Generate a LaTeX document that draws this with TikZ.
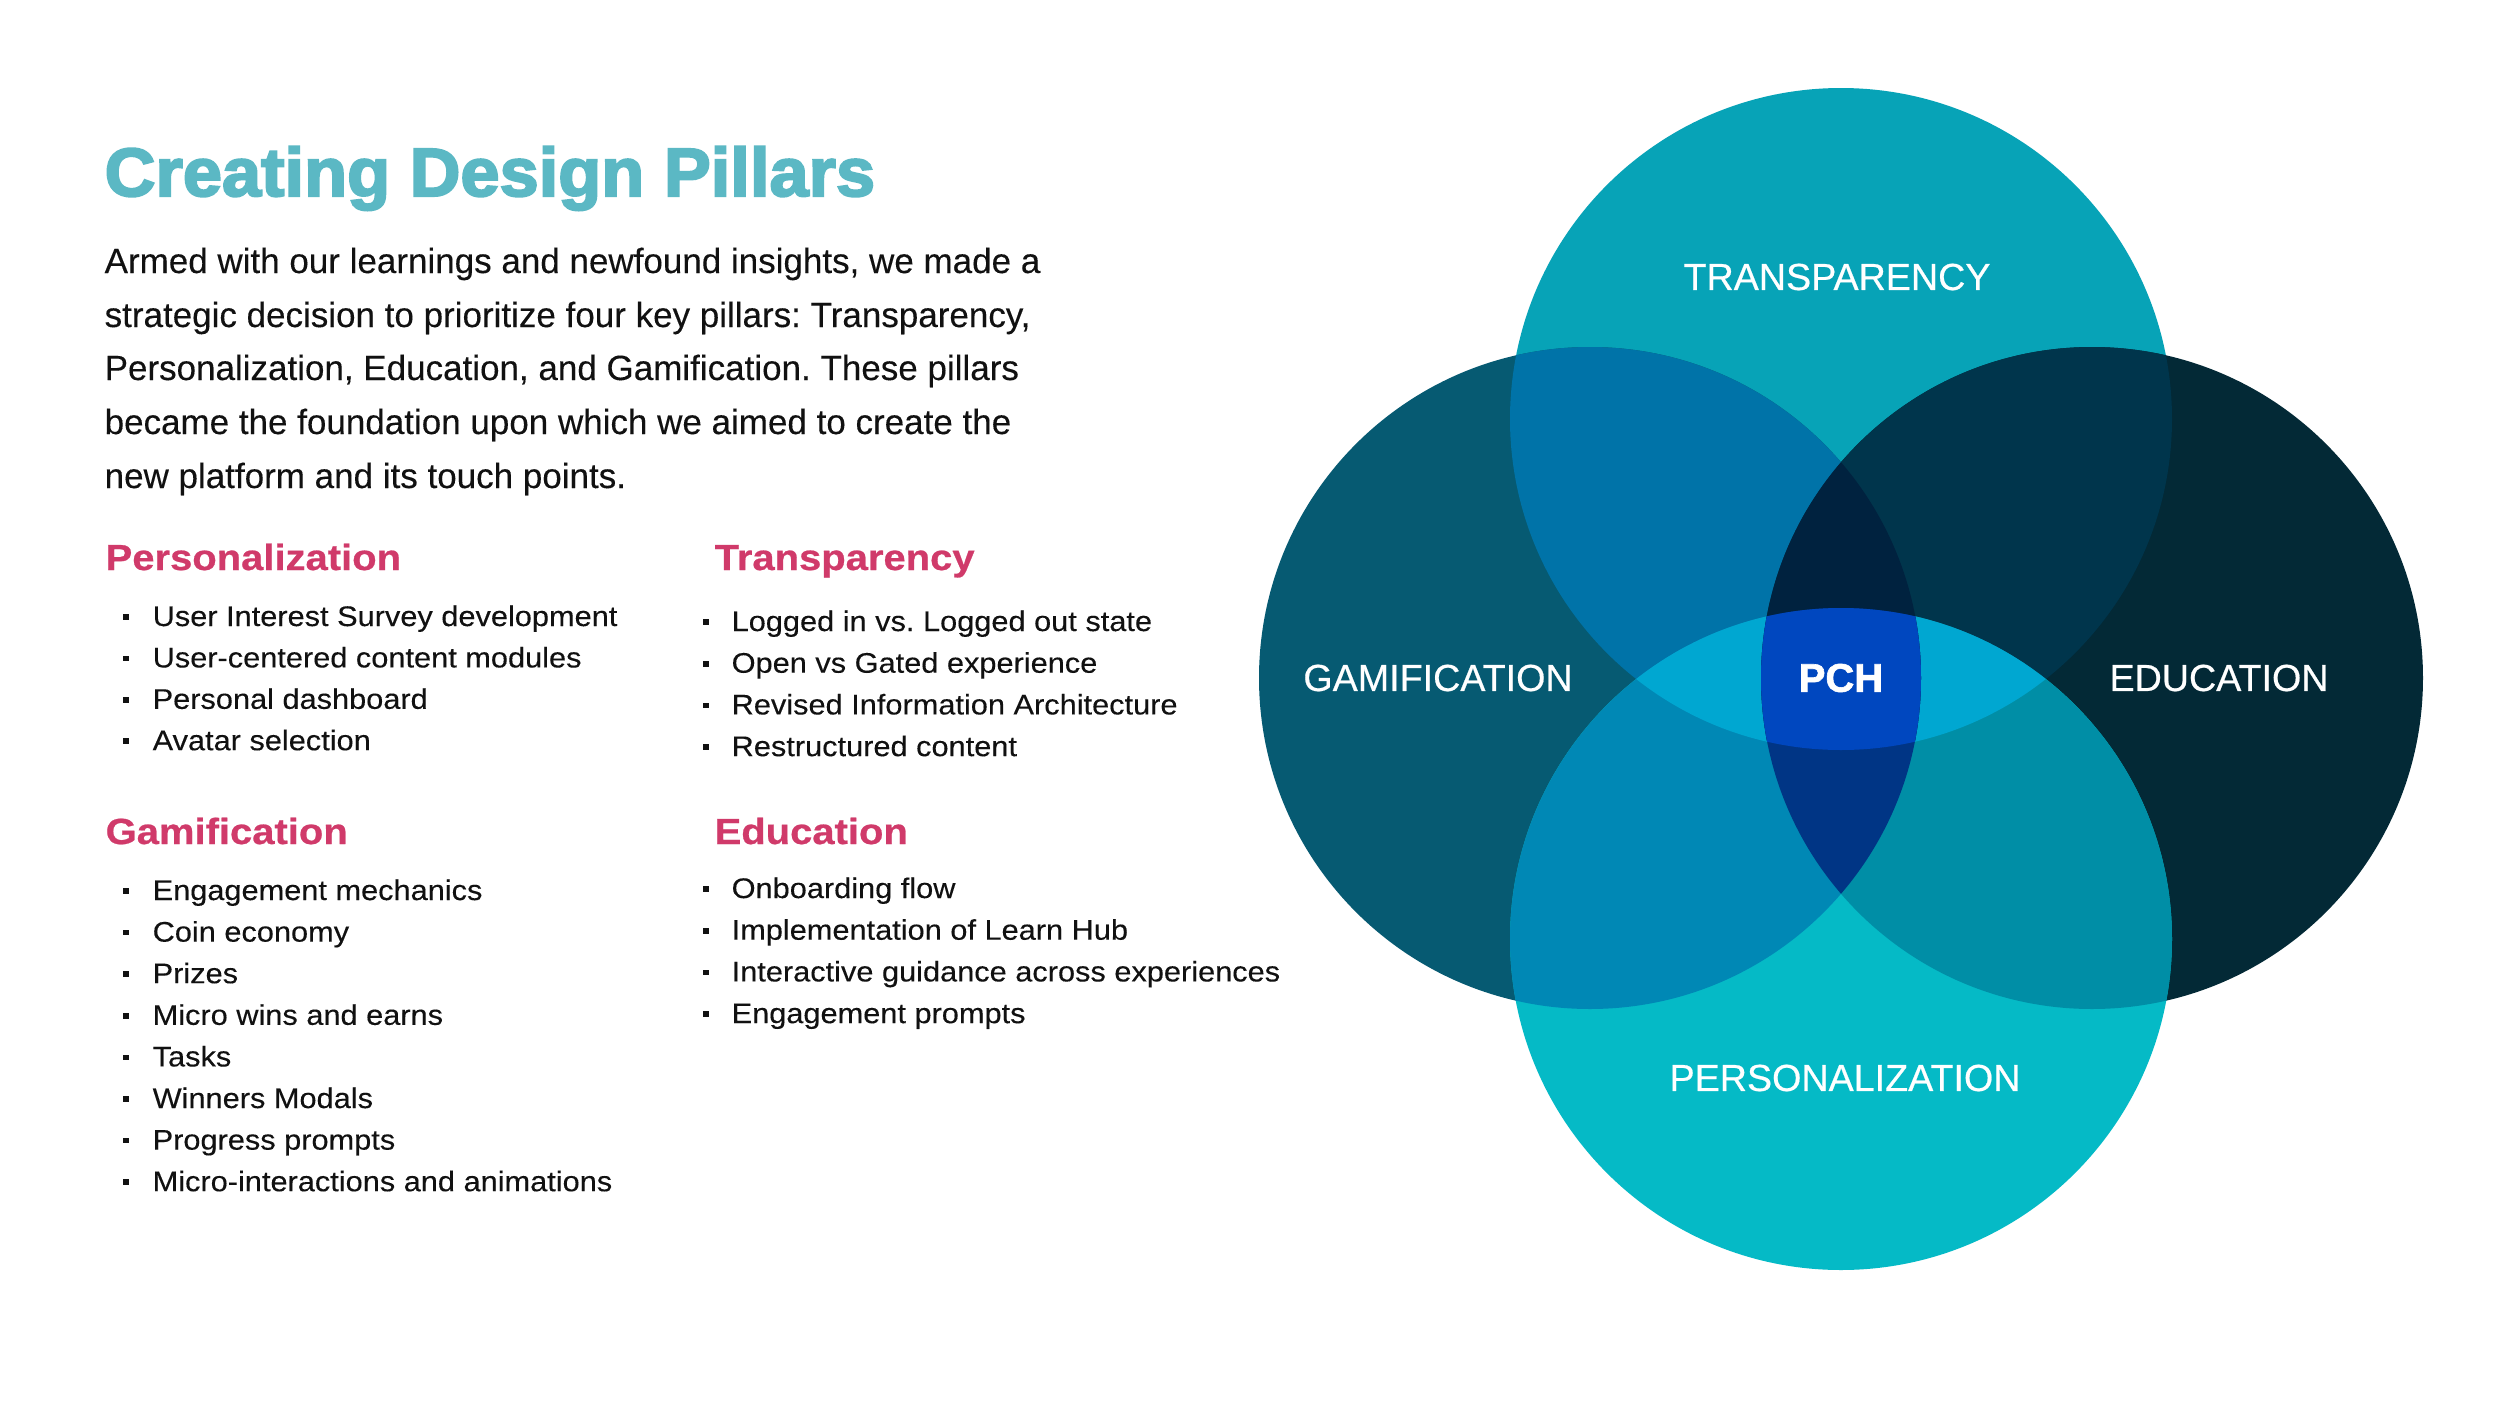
\documentclass[tikz,border=0pt]{standalone}
\usepackage{fontspec}
\setmainfont{Liberation Sans}
\newfontfamily\titlefont{Liberation Sans}[UprightFont={* Bold},FakeStretch=1.03,FakeBold=3]
\newfontfamily\headfont{Liberation Sans}[UprightFont={* Bold},FakeStretch=1.1,FakeBold=0.6]
\newfontfamily\itemfont{Liberation Sans}[FakeStretch=1.085,FakeBold=0.2]
\newfontfamily\parafont{Liberation Sans}[FakeBold=0.2]
\newfontfamily\labelfont{Liberation Sans}[FakeBold=0.5]
\newfontfamily\pchfont{Liberation Sans}[UprightFont={* Bold},FakeBold=1.5]
\definecolor{titlecol}{HTML}{5BB8C4}
\definecolor{pinkcol}{HTML}{D03A6A}
\definecolor{inkcol}{HTML}{111111}
\definecolor{cT}{HTML}{07A3B7}
\definecolor{cL}{HTML}{065A72}
\definecolor{cR}{HTML}{032936}
\definecolor{cB}{HTML}{05BAC6}
\definecolor{cTL}{HTML}{0073A8}
\definecolor{cTR}{HTML}{00354C}
\definecolor{cBL}{HTML}{0088B5}
\definecolor{cBR}{HTML}{008EA6}
\definecolor{cTB}{HTML}{00A7D1}
\definecolor{cLRT}{HTML}{00223F}
\definecolor{cLRB}{HTML}{003585}
\definecolor{cAll}{HTML}{0047BF}
\tikzset{
  titletext/.style={inner sep=0pt,anchor=base west,text=titlecol,font=\titlefont\fontsize{20.5}{24}\selectfont},
  paratext/.style={inner sep=0pt,anchor=base west,text=inkcol,font=\parafont\fontsize{10.5}{13}\selectfont},
  headtext/.style={inner sep=0pt,anchor=base west,text=pinkcol,font=\headfont\fontsize{10.9}{13}\selectfont},
  itemtext/.style={inner sep=0pt,anchor=base west,text=inkcol,font=\itemfont\fontsize{8.5}{10}\selectfont},
  bulletbox/.style={rectangle,fill=inkcol,inner sep=0pt,minimum size=1.7pt},
  venntext/.style={inner sep=0pt,text=white,font=\labelfont\fontsize{11.3}{13}\selectfont},
  pchtext/.style={inner sep=0pt,text=white,font=\pchfont\fontsize{12}{14}\selectfont}
}
\def\circT{(1841,419) circle [radius=99.3pt]}
\def\circL{(1590,678) circle [radius=99.3pt]}
\def\circR{(2092,678) circle [radius=99.3pt]}
\def\circB{(1841,939) circle [radius=99.3pt]}
\frenchspacing
\begin{document}
\begin{tikzpicture}[x=0.3pt,y=-0.3pt]
\useasboundingbox (0,0) rectangle (2500,1406);
\fill[white] (0,0) rectangle (2500,1406);

% ---------- Venn diagram ----------
\fill[cT] \circT;
\fill[cL] \circL;
\fill[cR] \circR;
\fill[cB] \circB;
\begin{scope}
  \clip \circT;
  \fill[cTL] \circL;
  \fill[cTR] \circR;
\end{scope}
\begin{scope}
  \clip \circB;
  \fill[cBL] \circL;
  \fill[cBR] \circR;
\end{scope}
\begin{scope}
  \clip \circT;
  \clip \circB;
  \fill[cTB] \circL;
  \fill[cTB] \circR;
\end{scope}
\begin{scope}
  \clip \circL;
  \clip \circR;
  \fill[cLRT] \circT;
  \fill[cLRB] \circB;
\end{scope}
\begin{scope}
  \clip \circL;
  \clip \circR;
  \clip \circT;
  \fill[cAll] \circB;
\end{scope}

\node[venntext] (vT) at (1837,277) {TRANSPARENCY};
\node[venntext] (vG) at (1438,678) {GAMIFICATION};
\node[venntext] (vE) at (2219,678) {EDUCATION};
\node[venntext] (vP) at (1845,1078) {PERSONALIZATION};
\node[pchtext] (vPCH) at (1841,678) {PCH};

% ---------- Title and paragraph ----------
\node[titletext] (title) at (104,196) {Creating Design Pillars};
\node[paratext] (para1) at (104,273) {Armed with our learnings and newfound insights, we made a};
\node[paratext] (para2) at (104,327) {strategic decision to prioritize four key pillars: Transparency,};
\node[paratext] (para3) at (104,380) {Personalization, Education, and Gamification. These pillars};
\node[paratext] (para4) at (104,434) {became the foundation upon which we aimed to create the};
\node[paratext] (para5) at (104,488) {new platform and its touch points.};

% ---------- Headers ----------
\node[headtext] (hP) at (105,570) {Personalization};
\node[headtext] (hT) at (714,570) {Transparency};
\node[headtext] (hG) at (105,844) {Gamification};
\node[headtext] (hE) at (714,844) {Education};

% ---------- Lists ----------
\foreach \t [count=\i from 0] in {User Interest Survey development, User-centered content modules, Personal dashboard, Avatar selection} {
  \node[itemtext] (pi\i) at (152,{626+41.4*\i}) {\t};
  \node[bulletbox] (pb\i) at (126,{617+41.4*\i}) {};
}
\foreach \t [count=\i from 0] in {Engagement mechanics, Coin economy, Prizes, Micro wins and earns, Tasks, Winners Modals, Progress prompts, Micro-interactions and animations} {
  \node[itemtext] (gi\i) at (152,{900+41.6*\i}) {\t};
  \node[bulletbox] (gb\i) at (126,{891+41.6*\i}) {};
}
\foreach \t [count=\i from 0] in {Logged in vs. Logged out state, Open vs Gated experience, Revised Information Architecture, Restructured content} {
  \node[itemtext] (ti\i) at (731,{631+41.7*\i}) {\t};
  \node[bulletbox] (tb\i) at (706,{622+41.7*\i}) {};
}
\foreach \t [count=\i from 0] in {Onboarding flow, Implementation of Learn Hub, Interactive guidance across experiences, Engagement prompts} {
  \node[itemtext] (ei\i) at (731,{898+41.7*\i}) {\t};
  \node[bulletbox] (eb\i) at (706,{889+41.7*\i}) {};
}
\end{tikzpicture}
\end{document}
